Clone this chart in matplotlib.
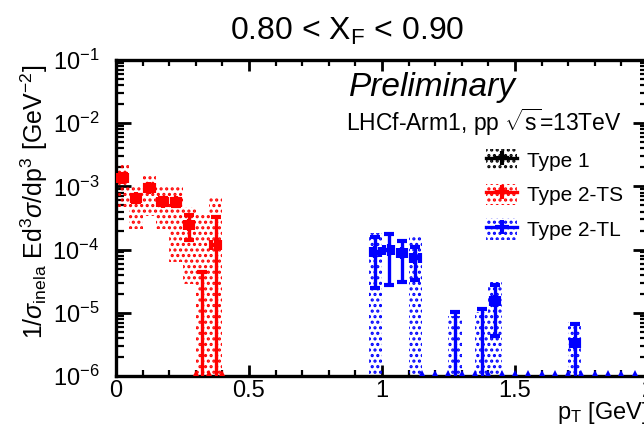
import numpy as np
import matplotlib
matplotlib.use("Agg")
import matplotlib.pyplot as plt
from matplotlib.patches import Patch
from matplotlib.lines import Line2D
from matplotlib.legend_handler import HandlerTuple
from matplotlib.ticker import MultipleLocator, LogLocator, FuncFormatter, NullFormatter

plt.rcParams['font.family'] = ['Liberation Sans', 'DejaVu Sans']
plt.rcParams['mathtext.fontset'] = 'custom'
plt.rcParams['mathtext.rm'] = 'Liberation Sans'
plt.rcParams['mathtext.it'] = 'Liberation Sans:italic'
plt.rcParams['mathtext.bf'] = 'Liberation Sans:bold'
plt.rcParams['hatch.linewidth'] = 1.5

# Type 2-TS (red): pT bin centres, value, stat band, sys box
ts_pt = [0.025, 0.075, 0.125, 0.175, 0.225, 0.275, 0.325, 0.375]
ts_val = [1.37e-3, 6.5e-4, 9.5e-4, 5.7e-4, 5.6e-4, 2.45e-4, 4e-7, 1.18e-4]
ts_stat_lo = [1.2e-3, 5.7e-4, 8.4e-4, 5.0e-4, 4.9e-4, 1.42e-4, 1e-8, 1e-8]
ts_stat_hi = [1.55e-3, 7.4e-4, 1.07e-3, 6.5e-4, 6.4e-4, 3.5e-4, 4.5e-5, 3.3e-4]
ts_sys_lo = [4.8e-4, 2.1e-4, 3.4e-4, 2.1e-4, 6.4e-5, 2.9e-5, 1e-8, 1e-8]
ts_sys_hi = [2.37e-3, 1.05e-3, 1.55e-3, 1.05e-3, 1.05e-3, 4.7e-4, 3.8e-4, 7.1e-4]

# Type 2-TL (blue)
tl_pt = [0.975, 1.025, 1.075, 1.125, 1.275, 1.375, 1.425, 1.725]
tl_val = [9.3e-5, 9.9e-5, 8.7e-5, 7.3e-5, 4e-7, 4e-7, 1.56e-5, 3.3e-6]
tl_stat_lo = [2.44e-5, 2.75e-5, 3.1e-5, 3.3e-5, 1e-8, 1e-8, 4.3e-6, 1e-8]
tl_stat_hi = [1.57e-4, 1.77e-4, 1.38e-4, 1.11e-4, 1.04e-5, 1.15e-5, 2.75e-5, 6.7e-6]
tl_sys_lo = [1e-8, 1e-8, 1e-8, 1e-8, 1e-8, 1e-8, 1e-8, 1e-8]
tl_sys_hi = [1.85e-4, 0, 0, 1.57e-4, 8.9e-6, 1.04e-5, 3.1e-5, 7.2e-6]

# empty bins drawn on the bottom edge
ts_zero_edges = [0.30, 0.35, 0.40]
tl_zero_edges = [1.15, 1.20, 1.25, 1.30, 1.35, 1.40, 1.45, 1.50, 1.55, 1.60,
                 1.65, 1.70, 1.75, 1.80, 1.85, 1.90, 1.95, 2.00]

series = [
    ("Type 2-TS", "#ff0000", ts_pt, ts_val, ts_stat_lo, ts_stat_hi, ts_sys_lo, ts_sys_hi, ts_zero_edges),
    ("Type 2-TL", "#0000ff", tl_pt, tl_val, tl_stat_lo, tl_stat_hi, tl_sys_lo, tl_sys_hi, tl_zero_edges),
]

fig = plt.figure(figsize=(6.44, 4.30), dpi=100)
ax = fig.add_axes([116/644, 54/430, 532/644, 316/430])
ax.set_yscale('log')
ax.set_xlim(0, 2)
ax.set_ylim(1e-6, 1e-1)

hatch = '...'
for name, col, pt, val, slo, shi, ylo, yhi, zeros in series:
    pt = np.array(pt); val = np.array(val)
    ylo = np.array(ylo); yhi = np.array(yhi)
    has_box = yhi > 0
    ax.bar(pt[has_box], yhi[has_box] - ylo[has_box], bottom=ylo[has_box], width=0.05,
           facecolor='none', edgecolor=col, hatch=hatch, linewidth=0, zorder=2)
    yerr = [val - np.array(slo), np.array(shi) - val]
    ax.errorbar(pt, val, yerr=yerr, xerr=0.016, fmt='+', color=col, ms=9, mew=3,
                elinewidth=2.4, capsize=3.5, capthick=2.2, zorder=3)
    ax.plot(zeros, [1.12e-6] * len(zeros), '^', color=col, ms=4, mew=0,
            clip_on=False, zorder=4)

# axes styling (ROOT like)
for sp in ax.spines.values():
    sp.set_linewidth(2.4)
ax.xaxis.set_major_locator(MultipleLocator(0.5))
ax.xaxis.set_minor_locator(MultipleLocator(0.1))
ax.xaxis.set_major_formatter(FuncFormatter(lambda v, p: f"{v:g}"))
ax.yaxis.set_major_locator(LogLocator(base=10, numticks=10))
ax.yaxis.set_minor_locator(LogLocator(base=10, subs=np.arange(2, 10), numticks=10))
ax.yaxis.set_minor_formatter(NullFormatter())
ax.tick_params(axis='x', which='major', direction='in', top=True, length=8, width=2, labelsize=17, pad=3)
ax.tick_params(axis='x', which='minor', direction='in', top=True, length=4.5, width=1.6)
ax.tick_params(axis='y', which='major', direction='in', right=True, length=11, width=2, labelsize=17, pad=12)
ax.tick_params(axis='y', which='minor', direction='in', right=True, length=5.5, width=1.6)

ax.set_ylabel(r'1/$\sigma_{\rm inela}$ Ed$^{3}\sigma$/dp$^{3}$ [GeV$^{-2}$]', fontsize=18)
ax.yaxis.set_label_coords(-0.125, 0.55)
ax.set_xlabel(r'p$_{\rm T}$ [GeV]', fontsize=17, loc='right')
ax.xaxis.set_label_coords(1.0, -0.075)

fig.text(0.539, 0.907, r'0.80 < X$_{\rm F}$ < 0.90', ha='center', va='baseline', fontsize=23)
ax.text(0.594, 0.885, 'Preliminary', transform=ax.transAxes, ha='center', va='baseline',
        fontsize=24, style='italic')
ax.text(0.951, 0.775, r'LHCf-Arm1, pp $\sqrt{\rm s}$=13TeV', transform=ax.transAxes,
        ha='right', va='baseline', fontsize=16.5)

handles = []
for col in ['black', '#ff0000', '#0000ff']:
    box = Patch(facecolor='none', edgecolor=col, hatch=hatch, linewidth=0)
    mk = Line2D([], [], color=col, marker='+', ms=10, mew=3, lw=2.4)
    handles.append((box, mk))
ax.legend(handles, ['Type 1', 'Type 2-TS', 'Type 2-TL'],
          handler_map={tuple: HandlerTuple(ndivide=1)},
          loc='upper left', bbox_to_anchor=(0.68, 0.745), frameon=False,
          fontsize=15, handlelength=1.5, handleheight=1.2, labelspacing=0.62,
          handletextpad=0.45, borderaxespad=0)

fig.savefig('out.png', dpi=100)
